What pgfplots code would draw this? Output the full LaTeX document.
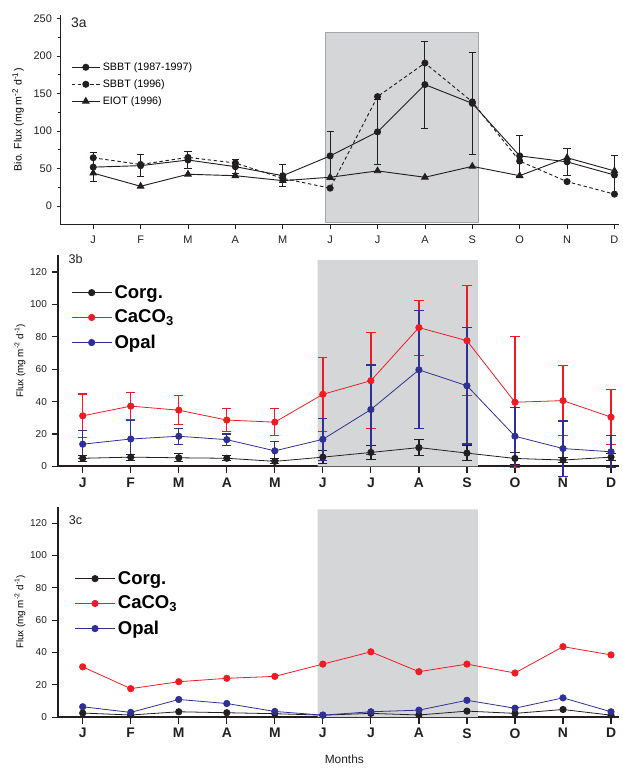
\documentclass[border=0pt]{standalone}
\usepackage{fontspec}
\setmainfont{Liberation Sans}
\usepackage{pgfplots}
\usepackage{pgfplotstable}
\pgfplotsset{compat=1.18}

\definecolor{cred}{RGB}{237,28,36}
\definecolor{cblue}{RGB}{46,49,146}
\definecolor{cblack}{RGB}{35,31,32}
\definecolor{shade}{RGB}{213,214,216}
\definecolor{shadeedge}{RGB}{165,166,170}

% panel 3a: SBBT mean with sd, SBBT 1996, EIOT 1996
\pgfplotstableread{
m sb sbe s96 eiot
0 52 19 64.5 44
1 54 15 55.5 26.5
2 61.5 11 65 42.5
3 52.6 9 57.5 40.6
4 40.6 14.5 37 34
5 67 32 24 38.5
6 99 43 146 47
7 162 58 190.7 38.5
8 137 68 139 53
9 67 27 60 40.6
10 59 18 32.7 64.5
11 41.5 26 16 47
}\dataA

% panel 3b: mean fluxes with error
\pgfplotstableread{
m corg corge caco cacoe opal opale
0 5 1.8 31.2 13.5 13.7 8.7
1 5.7 1.8 37.2 8.5 16.9 11.7
2 5.3 2.5 34.7 8.8 18.6 5
3 5 1.5 28.6 7 16.5 3.5
4 3.1 1.5 27.3 8.5 9.6 5.7
5 5.7 4 44.5 23 16.7 13
6 8.6 4.5 52.9 29.7 35.1 27.5
7 11.6 4.8 85.7 17 59.6 36.4
8 8.2 4.5 77.6 34 49.8 36
9 4.9 3.5 39.6 40.4 18.6 18
10 3.9 1.5 40.6 21.7 11 17
11 5.7 2 30.4 16.8 9 9.8
}\dataB

% panel 3c
\pgfplotstableread{
m corg caco opal
0 2.5 31.1 6.4
1 1.3 17.6 2.9
2 3.3 21.9 10.9
3 2.7 24 8.4
4 2.1 25.2 3.5
5 1.2 32.8 1.2
6 2.3 40.4 3.3
7 1.3 28.1 4.3
8 3.7 32.8 10.4
9 2.3 27.3 5.5
10 4.7 43.6 11.9
11 1.2 38.5 3.3
}\dataC

\pgfplotsset{
  panel/.style={
    scale only axis,
    axis x line=bottom, axis y line=left,
    axis line style={-, cblack},
    tick align=outside,
    xtick={0,...,11},
    xticklabels={J,F,M,A,M,J,J,A,S,O,N,D},
    /pgf/number format/assume math mode=true,
    clip=false,
    tick style={cblack},
  },
  flux/.style={
    panel,
    width=424pt, height=159.5pt,
    xmin=-0.51, xmax=11.17,
    ymin=0, ymax=130.3,
    ytick={0,20,...,120},
    x axis line style={line width=1.4pt},
    y axis line style={line width=1.1pt},
    major tick length=5pt,
    major tick style={line width=0.9pt},
    xticklabel style={font=\fontsize{10.5}{12}\selectfont\bfseries, text=cblack},
    yticklabel style={font=\fontsize{7.6}{9}\selectfont, text=cblack},
    ylabel={Flux (mg m\textsuperscript{-2} d\textsuperscript{-1})},
    ylabel style={font=\fontsize{7.4}{9}\selectfont, at={(axis description cs:-0.068,0.5)}, anchor=center, rotate=0},
    legend style={draw=none, fill=none, anchor=north west,
      font=\fontsize{14}{16}\selectfont\bfseries, row sep=3.5pt,
      cells={anchor=west}},
    legend image code/.code={\draw[mark repeat=2,mark phase=2] plot coordinates {(0pt,0pt) (15pt,0pt) (30pt,0pt)};},
  },
  ebar/.style={error bars/.cd, y dir=both, y explicit,
    error bar style={#1, line width=1pt},
    error mark options={rotate=90, mark size=3.5pt, line width=0.8pt, #1}},
}

\begin{document}
\begin{tikzpicture}
\path (0,0) rectangle (468.75pt,576pt);

% ---------------- 3a ----------------
\begin{axis}[panel,
  at={(45.75pt,406pt)}, anchor=south west,
  width=422.25pt, height=158.8pt,
  xmin=-0.69, xmax=11.1,
  ymin=-25, ymax=255,
  ytick={0,50,...,250},
  minor y tick num=1,
  major tick length=3pt, minor tick length=2pt,
  tick style={line width=0.6pt},
  axis line style={line width=0.7pt},
  ticklabel style={font=\fontsize{8.3}{10}\selectfont, text=cblack},
  xticklabel style={yshift=-2pt},
  ylabel={Bio. Flux (mg m\textsuperscript{-2} d\textsuperscript{-1})},
  ylabel style={font=\fontsize{8}{10}\selectfont, at={(axis description cs:-0.076,0.5)}, anchor=center},
  legend style={draw=none, fill=none, anchor=north west, at={(rel axis cs:0.012,0.8)},
    font=\fontsize{8.1}{10}\selectfont, row sep=1.5pt, cells={anchor=west}},
  legend image code/.code={\draw[mark repeat=2,mark phase=2] plot coordinates {(0pt,0pt) (10.5pt,0pt) (21pt,0pt)};},
]
\addplot[fill=shade, draw=shadeedge, line width=0.7pt, forget plot]
  coordinates {(4.9,-22) (8.13,-22) (8.13,231.5) (4.9,231.5) (4.9,-22)};
\addplot[cblack, line width=0.7pt, mark=*, mark size=2.3pt, mark options={solid, fill=cblack},
  error bars/.cd, y dir=both, y explicit,
  error bar style={cblack, line width=0.75pt},
  error mark options={rotate=90, mark size=2.7pt, line width=0.7pt, cblack}]
  table[x=m, y=sb, y error=sbe] {\dataA};
\addlegendentry{SBBT (1987-1997)}
\addplot[cblack, line width=0.7pt, dash pattern=on 2.6pt off 2pt, mark=*, mark size=2.3pt,
  mark options={solid, fill=cblack}]
  table[x=m, y=s96] {\dataA};
\addlegendentry{SBBT (1996)}
\addplot[cblack, line width=0.7pt, mark=triangle*, mark size=2.8pt, mark options={solid, fill=cblack}]
  table[x=m, y=eiot] {\dataA};
\addlegendentry{EIOT (1996)}
\node[font=\fontsize{10.5}{12}\selectfont, text=cblack] at (rel axis cs:0.033,0.962) {3a};
\end{axis}

% ---------------- 3b ----------------
\begin{axis}[flux,
  at={(44pt,223.5pt)}, anchor=south west,
  legend style={at={(rel axis cs:0.016,0.885)}},
]
\addplot[fill=shade, draw=none, forget plot]
  coordinates {(4.89,0) (8.23,0) (8.23,127.4) (4.89,127.4) (4.89,0)};
\addplot[cblack, line width=0.6pt, mark=*, mark size=2.4pt, mark options={fill=cblack}, ebar=cblack]
  table[x=m, y=corg, y error=corge] {\dataB};
\addlegendentry{Corg.}
\addplot[cred, line width=0.6pt, mark=*, mark size=2.4pt, mark options={fill=cred}, ebar=cred]
  table[x=m, y=caco, y error=cacoe] {\dataB};
\addlegendentry{CaCO\textsubscript{3}}
\addplot[cblue, line width=0.6pt, mark=*, mark size=2.4pt, mark options={fill=cblue}, ebar=cblue]
  table[x=m, y=opal, y error=opale] {\dataB};
\addlegendentry{Opal}
\node[font=\fontsize{9.5}{11}\selectfont, text=cblack] at (rel axis cs:0.031,0.985) {3b};
\end{axis}

% ---------------- 3c ----------------
\begin{axis}[flux,
  at={(44pt,34pt)}, anchor=south west,
  height=159pt, ymax=130.2,
  legend style={at={(rel axis cs:0.022,0.72)}},
  xlabel={Months},
  xlabel style={font=\fontsize{9}{11}\selectfont, text=cblack, at={(axis description cs:0.51,0)}, anchor=north, yshift=-25pt},
]
\addplot[fill=shade, draw=none, forget plot]
  coordinates {(4.89,0) (8.23,0) (8.23,128.6) (4.89,128.6) (4.89,0)};
\addplot[cblack, line width=0.6pt, mark=*, mark size=2.4pt, mark options={fill=cblack}]
  table[x=m, y=corg] {\dataC};
\addlegendentry{Corg.}
\addplot[cred, line width=0.6pt, mark=*, mark size=2.4pt, mark options={fill=cred}]
  table[x=m, y=caco] {\dataC};
\addlegendentry{CaCO\textsubscript{3}}
\addplot[cblue, line width=0.6pt, mark=*, mark size=2.4pt, mark options={fill=cblue}]
  table[x=m, y=opal] {\dataC};
\addlegendentry{Opal}
\node[font=\fontsize{9.5}{11}\selectfont, text=cblack] at (rel axis cs:0.031,0.937) {3c};
\end{axis}
\end{tikzpicture}
\end{document}
